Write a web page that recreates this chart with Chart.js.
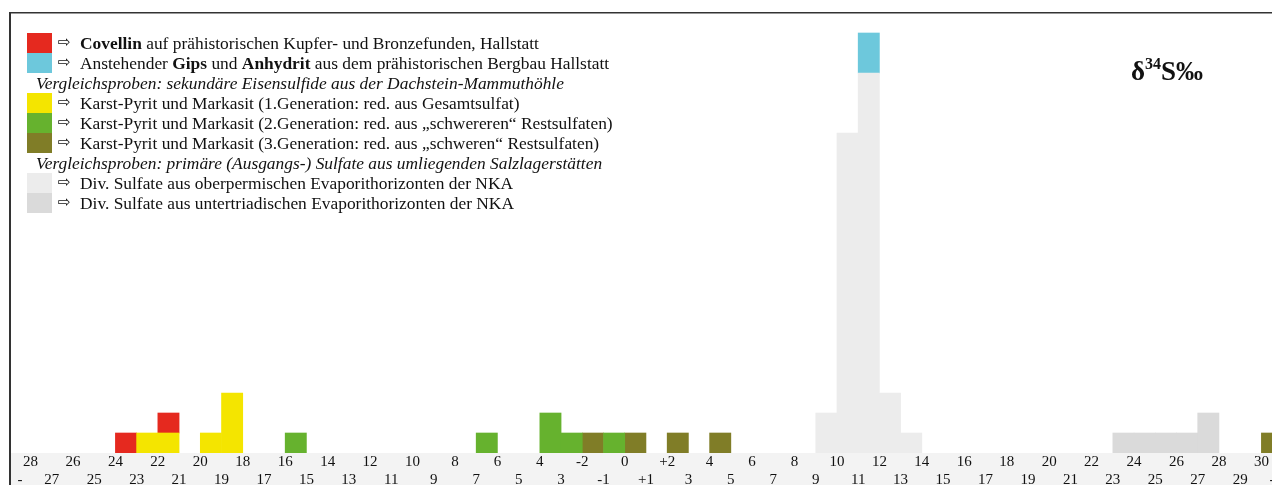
<!DOCTYPE html>
<html>
<head>
<meta charset="utf-8">
<script src="https://cdn.jsdelivr.net/npm/chart.js@4.4.1/dist/chart.umd.min.js"></script>
<style>
  body { margin: 0; background: #fff; }
  #wrap { position: relative; width: 1272px; height: 485px; overflow: hidden; }
  #legend { position: absolute; left: 27px; top: 33px; font-family: 'Liberation Serif', serif; font-size: 17.4px; color: #111; }
  .row { position: relative; height: 20px; line-height: 20px; white-space: nowrap; }
  .sw { position: absolute; left: 0; top: 0; width: 25px; height: 20px; }
  .arr { position: absolute; left: 31px; top: -1px; font-family: 'DejaVu Sans', sans-serif; font-size: 15px; }
  .txt { position: absolute; left: 53px; top: 0; }
  .hdr { position: absolute; left: 9px; top: 0; font-style: italic; }
  #title { position: absolute; left: 1131px; top: 58px; font-family: 'Liberation Serif', serif; font-weight: bold; font-size: 27px; line-height: 27px; color: #111; }
  #title span { font-size: 16px; position: relative; top: -11px; }
</style>
</head>
<body>
<div id="wrap">
  <canvas id="histChart"></canvas>
  <div id="legend"></div>
  <div id="title">δ<span>34</span>S‰</div>
</div>
<script>
// lower bin edges (signed ‰) and counts for each sample group
const covellinBins = [-24, -22];
const covellinCounts = [1, 1];
const gipsBins = [11];
const gipsCounts = [2];
const gen1Bins = [-23, -22, -20, -19];
const gen1Counts = [1, 1, 1, 3];
const gen2Bins = [-16, -7, -4, -3, -1];
const gen2Counts = [1, 1, 2, 1, 1];
const gen3Bins = [-2, 0, 2, 4, 30];
const gen3Counts = [1, 1, 1, 1, 1];
const permBins = [9, 10, 11, 12, 13];
const permCounts = [2, 16, 19, 3, 1];
const triasBins = [23, 24, 25, 26, 27];
const triasCounts = [1, 1, 1, 1, 2];

const tickValues = [-28, -27, -26, -25, -24, -23, -22, -21, -20, -19, -18, -17, -16, -15, -14, -13, -12, -11, -10, -9, -8, -7, -6, -5, -4, -3, -2, -1, 0, 1, 2, 3, 4, 5, 6, 7, 8, 9, 10, 11, 12, 13, 14, 15, 16, 17, 18, 19, 20, 21, 22, 23, 24, 25, 26, 27, 28, 29, 30];
const tickLabels = ['28', '27', '26', '25', '24', '23', '22', '21', '20', '19', '18', '17', '16', '15', '14', '13', '12', '11', '10', '9', '8', '7', '6', '5', '4', '3', '-2', '-1', '0', '+1', '+2', '3', '4', '5', '6', '7', '8', '9', '10', '11', '12', '13', '14', '15', '16', '17', '18', '19', '20', '21', '22', '23', '24', '25', '26', '27', '28', '29', '30'];

const colors = {
  covellin: '#e5291f',
  gips: '#6dc8dc',
  gen1: '#f4e500',
  gen2: '#66b22e',
  gen3: '#807d27',
  perm: '#ececec',
  trias: '#dadada'
};

function toPoints(bins, counts) {
  return bins.map((b, i) => ({ x: b + 0.5, y: counts[i] }));
}

// stacking order bottom -> top
const datasets = [
  { label: 'Div. Sulfate aus oberpermischen Evaporithorizonten der NKA', data: toPoints(permBins, permCounts), backgroundColor: colors.perm },
  { label: 'Div. Sulfate aus untertriadischen Evaporithorizonten der NKA', data: toPoints(triasBins, triasCounts), backgroundColor: colors.trias },
  { label: 'Karst-Pyrit und Markasit (1.Generation)', data: toPoints(gen1Bins, gen1Counts), backgroundColor: colors.gen1 },
  { label: 'Karst-Pyrit und Markasit (2.Generation)', data: toPoints(gen2Bins, gen2Counts), backgroundColor: colors.gen2 },
  { label: 'Karst-Pyrit und Markasit (3.Generation)', data: toPoints(gen3Bins, gen3Counts), backgroundColor: colors.gen3 },
  { label: 'Covellin', data: toPoints(covellinBins, covellinCounts), backgroundColor: colors.covellin },
  { label: 'Gips und Anhydrit', data: toPoints(gipsBins, gipsCounts), backgroundColor: colors.gips }
];
datasets.forEach(ds => {
  ds.barPercentage = 1;
  ds.categoryPercentage = 1;
  ds.borderWidth = 0;
});

// legend rows (html, since some words are bold)
const legendRows = [
  { color: colors.covellin, html: '<b>Covellin</b> auf prähistorischen Kupfer- und Bronzefunden, Hallstatt' },
  { color: colors.gips, html: 'Anstehender <b>Gips</b> und <b>Anhydrit</b> aus dem prähistorischen Bergbau Hallstatt' },
  { header: 'Vergleichsproben: sekundäre Eisensulfide aus der Dachstein-Mammuthöhle' },
  { color: colors.gen1, html: 'Karst-Pyrit und Markasit (1.Generation: red. aus Gesamtsulfat)' },
  { color: colors.gen2, html: 'Karst-Pyrit und Markasit (2.Generation: red. aus „schwereren“ Restsulfaten)' },
  { color: colors.gen3, html: 'Karst-Pyrit und Markasit (3.Generation: red. aus „schweren“ Restsulfaten)' },
  { header: 'Vergleichsproben: primäre (Ausgangs-) Sulfate aus umliegenden Salzlagerstätten' },
  { color: colors.perm, html: 'Div. Sulfate aus oberpermischen Evaporithorizonten der NKA' },
  { color: colors.trias, html: 'Div. Sulfate aus untertriadischen Evaporithorizonten der NKA' }
];

const legendEl = document.getElementById('legend');
legendRows.forEach(r => {
  const row = document.createElement('div');
  row.className = 'row';
  if (r.header) {
    row.innerHTML = '<span class="hdr">' + r.header + '</span>';
  } else {
    row.innerHTML = '<span class="sw" style="background:' + r.color + '"></span>' +
      '<span class="arr">⇨</span><span class="txt">' + r.html + '</span>';
  }
  legendEl.appendChild(row);
});

const framePlugin = {
  id: 'frame',
  beforeDraw(chart) {
    const ctx = chart.ctx;
    const x = chart.scales.x;
    ctx.save();
    ctx.fillStyle = '#f3f3f3';
    ctx.fillRect(11, x.top, chart.width - 11, chart.height - x.top);
    ctx.restore();
  },
  afterDraw(chart) {
    const ctx = chart.ctx;
    const x = chart.scales.x;
    ctx.save();
    ctx.fillStyle = '#333';
    ctx.fillRect(9, 12, 2, chart.height - 12);
    ctx.fillRect(9, 12, chart.width - 9, 1.5);
    // the lone "-" signs at both ends of the lower tick row
    ctx.fillStyle = '#111';
    ctx.font = '15px "Liberation Serif"';
    ctx.textAlign = 'center';
    ctx.textBaseline = 'middle';
    ctx.fillText('-', x.getPixelForValue(-28.5), x.top + 27);
    ctx.fillText('-', x.getPixelForValue(30.5), x.top + 27);
    ctx.restore();
  }
};

new Chart(document.getElementById('histChart'), {
  type: 'bar',
  data: { datasets: datasets },
  options: {
    responsive: true,
    maintainAspectRatio: false,
    animation: false,
    layout: { padding: { left: 11, top: 13, right: 0, bottom: 0 } },
    plugins: {
      legend: { display: false },
      tooltip: { enabled: false }
    },
    scales: {
      x: {
        type: 'linear',
        min: -28.92,
        max: 30.5,
        offset: false,
        stacked: true,
        grid: { display: false, drawTicks: false },
        border: { display: false },
        afterBuildTicks: (scale) => {
          scale.ticks = tickValues.map(v => ({ value: v }));
        },
        afterFit: (scale) => {
          scale.height = 32;
          scale.paddingLeft = 0;
          scale.paddingRight = 0;
        },
        ticks: {
          autoSkip: false,
          maxRotation: 0,
          padding: 0,
          color: '#111',
          font: { family: 'Liberation Serif', size: 15, lineHeight: 1.2 },
          callback: (value, index) => {
            const label = tickLabels[index];
            return tickValues[index] % 2 === 0 ? [label, ''] : ['', label];
          }
        }
      },
      y: {
        display: false,
        stacked: true,
        min: 0,
        max: 22
      }
    }
  },
  plugins: [framePlugin]
});
</script>
</body>
</html>
